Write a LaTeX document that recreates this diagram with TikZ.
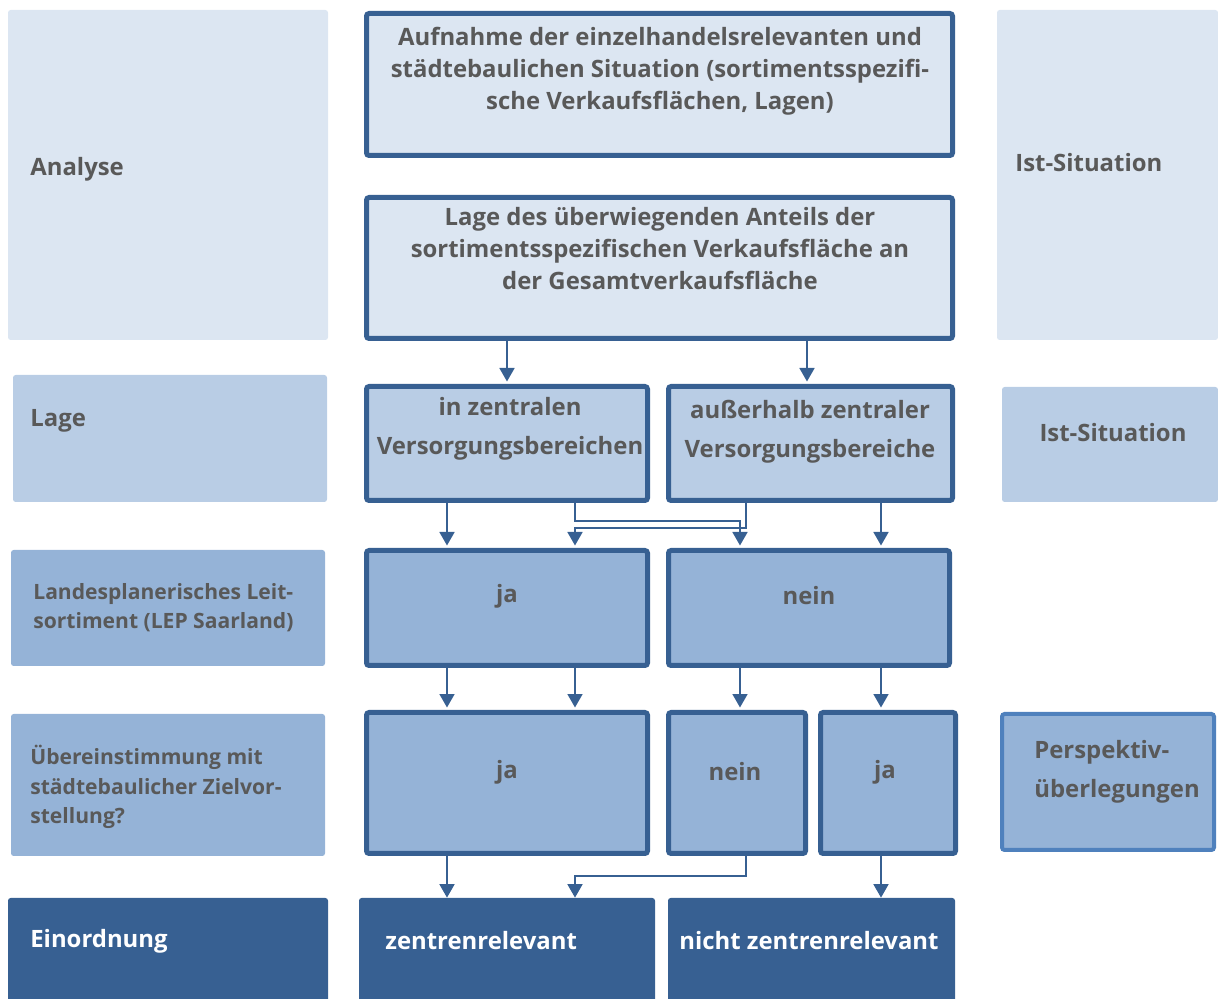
\documentclass[tikz,border=0pt]{standalone}
\usepackage{fontspec}
\setmainfont{Open Sans}
\usetikzlibrary{arrows.meta, positioning, calc}
\definecolor{palefill}{RGB}{220,230,242}
\definecolor{midfill}{RGB}{185,205,229}
\definecolor{deepfill}{RGB}{149,179,215}
\definecolor{navy}{RGB}{55,96,146}
\definecolor{frameblue}{RGB}{79,129,189}
\definecolor{txtgrey}{RGB}{89,89,89}

\begin{document}
\begin{tikzpicture}[
  x=0.02cm, y=-0.02cm,
  panel/.style 2 args={rectangle, rounded corners=1.5pt, inner sep=0pt, minimum width=#1*0.02cm, minimum height=#2*0.02cm},
  flowbox/.style={draw=navy, line width=0.1cm},
  txt/.style={inner sep=0pt, text=txtgrey, font=\fontsize{13.6}{18.2}\selectfont\bfseries, align=center},
  sidetxt/.style={txt, anchor=west, align=left},
  sidesmall/.style={sidetxt, font=\fontsize{12}{16.6}\selectfont\bfseries},
  link/.style={draw=navy, line width=0.035cm, shorten >=0.05cm, -{Triangle[width=0.3cm, length=0.27cm]}}
]
  \useasboundingbox (0,0) rectangle (1218,999);

  % left column
  \node[panel={320}{330}, fill=palefill] (analyse) at (168,175) {};
  \node[sidetxt] (analyseT) at (30,169) {Analyse};
  \node[panel={314}{127}, fill=midfill] (lage) at (170,438.5) {};
  \node[sidetxt] (lageT) at (30,421) {Lage};
  \node[panel={314}{116}, fill=deepfill] (lep) at (168,608) {};
  \node[sidesmall] (lepT) at (33,608) {Landesplanerisches Leit-\\sortiment (LEP Saarland)};
  \node[panel={314}{142}, fill=deepfill] (ueb) at (168,785) {};
  \node[sidesmall] (uebT) at (30,787) {Übereinstimmung mit\\städtebaulicher Zielvor-\\stellung?};
  \node[panel={320}{110}, fill=navy] (einord) at (168,953) {};
  \node[sidetxt, text=white] (einordT) at (30,941) {Einordnung};

  % middle column
  \node[panel={586}{142}, flowbox, fill=palefill] (aufnahme) at (659.5,84.5) {};
  \node[txt] (aufnahmeT) at (660,71) {Aufnahme der einzelhandelsrelevanten und\\städtebaulichen Situation (sortimentsspezifi-\\sche Verkaufsflächen, Lagen)};
  \node[panel={586}{141}, flowbox, fill=palefill] (anteil) at (659.5,268) {};
  \node[txt] (anteilT) at (660,249) {Lage des überwiegenden Anteils der\\sortimentsspezifischen Verkaufsfläche an\\der Gesamtverkaufsfläche};

  \node[panel={281}{114}, flowbox, fill=midfill] (inZentral) at (507,443.5) {};
  \node[txt] (inZentralT) at (510,429) {in zentralen\\[4pt]Versorgungsbereichen};
  \node[panel={284}{114}, flowbox, fill=midfill] (ausserhalb) at (810.5,443.5) {};
  \node[txt] (ausserhalbT) at (810,432) {außerhalb zentraler\\[4pt]Versorgungsbereiche};

  \node[panel={281}{115}, flowbox, fill=deepfill] (lepJa) at (507,608) {};
  \node[txt] (lepJaT) at (507,596) {ja};
  \node[panel={281}{115}, flowbox, fill=deepfill] (lepNein) at (809,608) {};
  \node[txt] (lepNeinT) at (809,596) {nein};

  \node[panel={281}{141}, flowbox, fill=deepfill] (uebJa) at (507,783) {};
  \node[txt] (uebJaT) at (507,772) {ja};
  \node[panel={137}{141}, flowbox, fill=deepfill] (uebNein) at (737,783) {};
  \node[txt] (uebNeinT) at (735,772) {nein};
  \node[panel={135}{141}, flowbox, fill=deepfill] (uebJa2) at (888,783) {};
  \node[txt] (uebJa2T) at (885,772) {ja};

  \node[panel={296}{110}, fill=navy] (zentren) at (507,953) {};
  \node[sidetxt, text=white] (zentrenT) at (385,941) {zentrenrelevant};
  \node[panel={287}{110}, fill=navy] (nichtZ) at (811.5,953) {};
  \node[txt, text=white] (nichtZT) at (809,941) {nicht zentrenrelevant};

  % right column
  \node[panel={221}{330}, fill=palefill] (ist) at (1107.5,175) {};
  \node[sidetxt] (istT) at (1015,163) {Ist-Situation};
  \node[panel={216}{115}, fill=midfill] (istLage) at (1110,444.5) {};
  \node[txt] (istLageT) at (1113,433) {Ist-Situation};
  \node[panel={212}{136}, draw=frameblue, line width=0.08cm, fill=deepfill] (persp) at (1108,782) {};
  \node[sidetxt] (perspT) at (1034,772) {Perspektiv-\\[4pt]überlegungen};

  % connectors
  \coordinate (colA) at (447,0);
  \coordinate (colB) at (575,0);
  \coordinate (colC) at (740,0);
  \coordinate (colD) at (746,0);
  \coordinate (colE) at (881,0);
  \coordinate (colF) at (507,0);
  \coordinate (colG) at (807,0);
  \coordinate (rowA) at (0,521);
  \coordinate (rowB) at (0,528);
  \coordinate (rowC) at (0,876);

  \draw[link] (anteil.south -| colF) -- (inZentral.north -| colF);
  \draw[link] (anteil.south -| colG) -- (ausserhalb.north -| colG);
  \draw[link] (inZentral.south -| colA) -- (lepJa.north -| colA);
  \draw[link] (inZentral.south -| colB) -- (colB |- rowA) -| (lepNein.north -| colC);
  \draw[link] (ausserhalb.south -| colD) -- (colD |- rowB) -| (lepJa.north -| colB);
  \draw[link] (ausserhalb.south -| colE) -- (lepNein.north -| colE);
  \draw[link] (lepJa.south -| colA) -- (uebJa.north -| colA);
  \draw[link] (lepJa.south -| colB) -- (uebJa.north -| colB);
  \draw[link] (lepNein.south -| colC) -- (uebNein.north -| colC);
  \draw[link] (lepNein.south -| colE) -- (uebJa2.north -| colE);
  \draw[link, shorten >=0pt] (uebJa.south -| colA) -- (zentren.north -| colA);
  \draw[link, shorten >=0pt] (uebNein.south -| colD) -- (colD |- rowC) -| (zentren.north -| colB);
  \draw[link, shorten >=0pt] (uebJa2.south -| colE) -- (nichtZ.north -| colE);
\end{tikzpicture}
\end{document}
